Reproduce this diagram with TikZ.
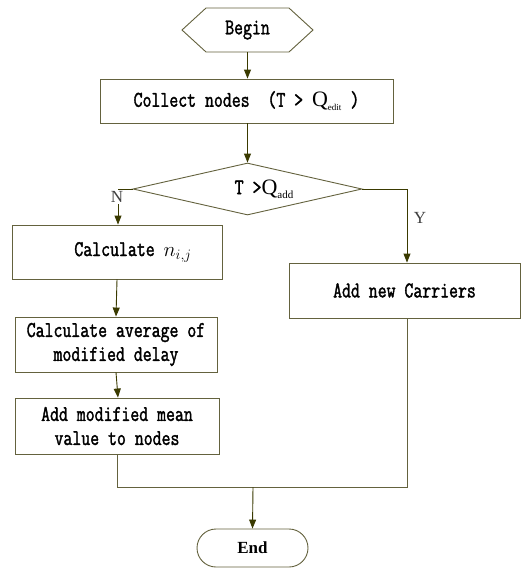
\documentclass[tikz,border=0pt]{standalone}
\usepackage{fontspec}
\newfontfamily\monof[FakeStretch=0.77,FakeBold=1.6]{Latin Modern Mono}
\newfontfamily\serifq{Liberation Serif}
\usetikzlibrary{shapes.geometric,shapes.misc,shapes.symbols,arrows.meta}
\definecolor{boxc}{RGB}{100,98,62}
\definecolor{arrc}{RGB}{58,58,0}
\begin{document}
\begin{tikzpicture}[x=1pt,y=-1pt,
  txt/.style={font=\monof\fontsize{22.5}{24}\selectfont,align=center,text=black},
  box/.style={draw=boxc,line width=0.9pt,rectangle,inner sep=0pt,txt},
  arr/.style={draw=arrc,line width=0.9pt,-{Triangle[length=9pt,width=7pt]}},
  plain/.style={draw=boxc,line width=0.9pt},
  lbl/.style={font=\serifq\fontsize{17}{17}\selectfont,text=black!75,inner sep=1pt},
]
\useasboundingbox (0,0) rectangle (521,568);
\fill[white] (0,0) rectangle (521,568);

\node[box,signal,signal to=east and west,signal pointer angle=85,minimum width=131pt,minimum height=44pt] (begin) at (247.5,30) {Begin};
\node[box,minimum width=293pt,minimum height=44pt] (collect) at (246.5,101)
  {Collect nodes\ \ (T > {\serifq\fontsize{22}{22}\selectfont Q}{\serifq\fontsize{9}{9}\selectfont\raisebox{-4pt}{edit}}\ )};
\node[box,diamond,aspect=4.4,minimum width=229pt,minimum height=52pt] (dec) at (247.5,189) {};
\node[txt] (dect) at (264,189) {T >{\serifq\fontsize{22}{22}\selectfont Q}{\serifq\fontsize{11}{11}\selectfont\raisebox{-4pt}{add}}};
\node[box,minimum width=210pt,minimum height=54pt] (calc) at (117,252) {};
\node[txt] (calct) at (133,252) {Calculate {\fontsize{20}{20}\selectfont$n_{i,j}$}};
\node[box,minimum width=202pt,minimum height=55pt] (avg) at (116,344.5) {Calculate average of\\modified delay};
\node[box,minimum width=204pt,minimum height=56pt] (addmod) at (117,426) {Add modified mean\\value to nodes};
\node[box,minimum width=231pt,minimum height=55pt] (carriers) at (404.5,290.5) {Add new Carriers};
\node[box,rounded rectangle,minimum width=111pt,minimum height=38pt,font=\serifq\bfseries\fontsize{17}{17}\selectfont] (end) at (252.5,548) {End};

\draw[arr] (begin.south) -- (collect.north -| begin.south);
\draw[arr] (collect.south -| dec.north) -- (dec.north);
\draw[arr] (dec.west) -| ([xshift=1pt]calc.north);
\draw[arr] (dec.east) -| ([xshift=2.5pt]carriers.north);
\node[lbl,fill=white] (nlab) at (117,197) {N};
\node[lbl] (ylab) at (420,218) {Y};
\draw[arr] (calc.south) -- (avg.north);
\draw[arr] (avg.south) -- ([xshift=1pt]addmod.north);
\coordinate (join) at (253,487);
\draw[plain] (addmod.south) -- (addmod.south |- join) -- ([xshift=2.5pt]carriers.south |- join) -- ([xshift=2.5pt]carriers.south);
\draw[arr] (join) -- (end.north);
\end{tikzpicture}
\end{document}
